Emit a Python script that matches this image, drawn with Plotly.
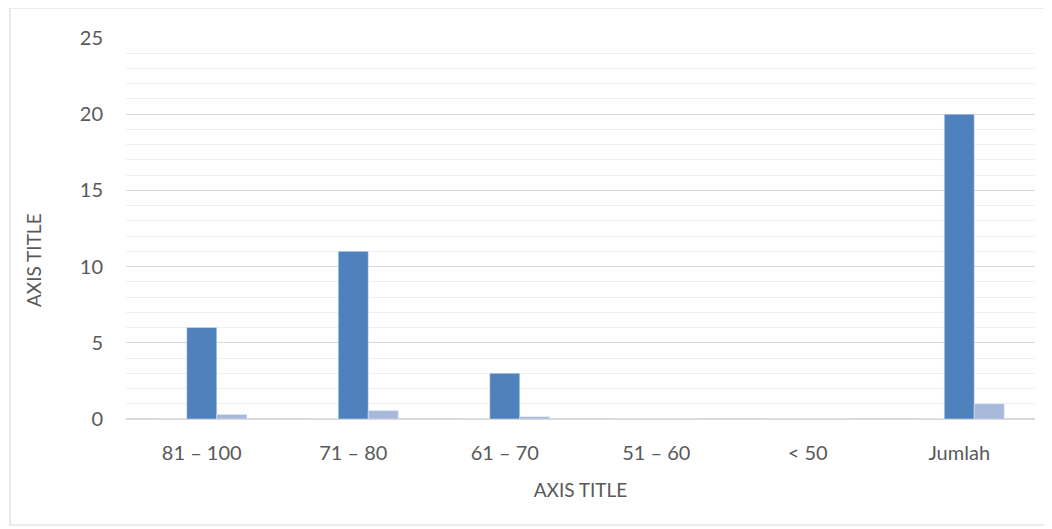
import plotly.graph_objects as go

categories = ["81 – 100", "71 – 80", "61 – 70", "51 – 60", "< 50", "Jumlah"]
series_hidden = [0, 0, 0, 0, 0, 0]
series_count = [6, 11, 3, 0, 0, 20]
series_pct = [0.3, 0.55, 0.15, 0, 0, 1]
y_ticks = [0, 5, 10, 15, 20, 25]

fig = go.Figure()
fig.add_trace(go.Bar(x=categories, y=series_hidden, marker_color="#4472C4", name="No"))
fig.add_trace(go.Bar(x=categories, y=series_count, marker_color="#4F81BD", name="Frekuensi"))
fig.add_trace(go.Bar(x=categories, y=series_pct, marker_color="#A7B8DA", name="Persentase"))

font_family = "Lato, 'Open Sans', sans-serif"
fig.update_layout(
    width=1044, height=521,
    margin=dict(l=118, r=17, t=30, b=110),
    paper_bgcolor="white", plot_bgcolor="white",
    barmode="group", bargap=0.406, bargroupgap=0,
    showlegend=False,
    font=dict(family=font_family, size=20, color="#595959"),
    xaxis=dict(
        title=dict(text="AXIS TITLE", font=dict(size=19, color="#595959"), standoff=20),
        showgrid=False, ticks="", showline=False,
        tickfont=dict(size=20, color="#595959"),
        ticklabelstandoff=20,
    ),
    yaxis=dict(
        range=[0, 25], tickvals=y_ticks,
        showgrid=True, gridcolor="#D9D9D9", gridwidth=1.3,
        minor=dict(dtick=1, showgrid=True, gridcolor="#F0F0F0", gridwidth=1.3),
        zeroline=True, zerolinecolor="#D9D9D9", zerolinewidth=1.5,
        ticks="", showline=False,
        tickfont=dict(size=20, color="#595959"),
        ticklabelstandoff=22,
    ),
    annotations=[dict(text="AXIS TITLE", xref="paper", yref="paper",
                      x=(33 - 126) / 909, y=(419 - 260) / 381, textangle=-90,
                      showarrow=False, xanchor="center", yanchor="middle",
                      font=dict(size=19, color="#595959"))],
    shapes=[dict(type="rect", xref="paper", yref="paper",
                 x0=-116/909, x1=1 + 12/909, y0=-106/381, y1=1 + 30/381,
                 line=dict(color="#D9D9D9", width=1.2), fillcolor="rgba(0,0,0,0)", layer="below")],
)

fig.write_html("out.html")
